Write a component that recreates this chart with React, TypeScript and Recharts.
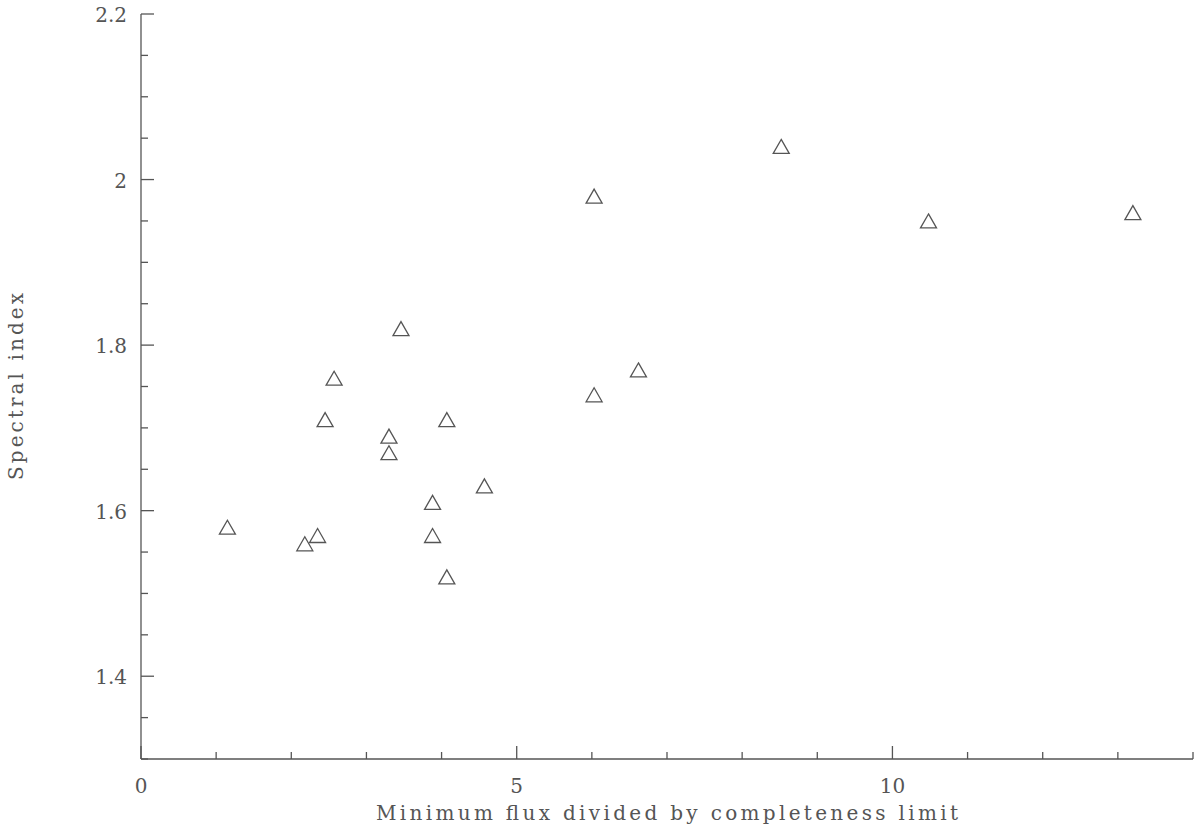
import { ScatterChart, Scatter, XAxis, YAxis, Label } from 'recharts';

// minimum flux / completeness limit
const fluxRatio = [1.15, 2.18, 2.35, 2.45, 2.57, 3.3, 3.3, 3.46, 3.88, 3.88, 4.07, 4.07, 4.57, 6.03, 6.03, 6.62, 8.52, 10.48, 13.2];
const spectralIndex = [1.58, 1.56, 1.57, 1.71, 1.76, 1.69, 1.67, 1.82, 1.61, 1.57, 1.71, 1.52, 1.63, 1.98, 1.74, 1.77, 2.04, 1.95, 1.96];

const xTicks = [0, 1, 2, 3, 4, 5, 6, 7, 8, 9, 10, 11, 12, 13, 14];
const yTicks = [1.3, 1.35, 1.4, 1.45, 1.5, 1.55, 1.6, 1.65, 1.7, 1.75, 1.8, 1.85, 1.9, 1.95, 2, 2.05, 2.1, 2.15, 2.2];
const xLabels = [0, 5, 10];
const yLabels = [1.4, 1.6, 1.8, 2, 2.2];

const data = fluxRatio.map((x, i) => ({ x, y: spectralIndex[i] }));

const INK = '#555';
const TEXT = '#555';
const FONT = '"DejaVu Serif", serif';

const isMajor = (list: number[], v: number) => list.some(l => Math.abs(l - v) < 1e-6);

const Triangle = (props: any) => {
  const { cx, cy } = props;
  return (
    <path
      d={`M${cx},${cy - 7} L${cx + 8},${cy + 7} L${cx - 8},${cy + 7} Z`}
      fill="none"
      stroke={INK}
      strokeWidth={1.3}
    />
  );
};

const BottomTick = ({ x, y, payload }: any) => {
  const major = isMajor(xLabels, payload.value);
  return (
    <g>
      <line x1={x} y1={y} x2={x} y2={y - (major ? 13 : 7)} stroke={INK} strokeWidth={1.3} />
      {major && (
        <text x={x} y={y + 34} textAnchor="middle" fontFamily={FONT} fontSize={20} fill={TEXT}>
          {payload.value}
        </text>
      )}
    </g>
  );
};

const TopTick = ({ x, y, payload }: any) => {
  const major = isMajor(xLabels, payload.value);
  return <line x1={x} y1={y} x2={x} y2={y + (major ? 13 : 7)} stroke={INK} strokeWidth={1.3} />;
};

const LeftTick = ({ x, y, payload }: any) => {
  const major = isMajor(yLabels, payload.value);
  return (
    <g>
      <line x1={x} y1={y} x2={x + (major ? 13 : 7)} y2={y} stroke={INK} strokeWidth={1.3} />
      {major && (
        <text x={x - 14} y={y + 8} textAnchor="end" fontFamily={FONT} fontSize={20} fill={TEXT}>
          {String(payload.value)}
        </text>
      )}
    </g>
  );
};

const RightTick = ({ x, y, payload }: any) => {
  const major = isMajor(yLabels, payload.value);
  return <line x1={x} y1={y} x2={x - (major ? 13 : 7)} y2={y} stroke={INK} strokeWidth={1.3} />;
};

const App = () => {
  return (
    <div style={{ position: 'absolute', left: 0, top: 0, background: '#fff' }}>
      <ScatterChart width={1200} height={830} margin={{ top: 14, right: 7, bottom: 0, left: 0 }}>
        <XAxis
          type="number"
          dataKey="x"
          domain={[0, 14]}
          ticks={xTicks}
          interval={0}
          height={71}
          tickSize={0}
          tickMargin={0}
          tick={<BottomTick />}
          axisLine={{ stroke: INK, strokeWidth: 1.3 }}
        >
          <Label
            content={(props: any) => {
              const vb = props.viewBox;
              return (
                <text
                  x={vb.x + vb.width / 2}
                  y={vb.y + 61}
                  textAnchor="middle"
                  fontFamily={FONT}
                  fontSize={20}
                  fill={TEXT}
                  textLength={582}
                  lengthAdjust="spacing"
                >
                  Minimum flux divided by completeness limit
                </text>
              );
            }}
          />
        </XAxis>
        <XAxis
          xAxisId="top"
          orientation="top"
          type="number"
          dataKey="x"
          domain={[0, 14]}
          ticks={xTicks}
          interval={0}
          height={0}
          tickSize={0}
          tickMargin={0}
          tick={<TopTick />}
          axisLine={{ stroke: INK, strokeWidth: 1.3 }}
        />
        <YAxis
          type="number"
          dataKey="y"
          domain={[1.3, 2.2]}
          ticks={yTicks}
          interval={0}
          width={141}
          tickSize={0}
          tickMargin={0}
          tick={<LeftTick />}
          axisLine={{ stroke: INK, strokeWidth: 1.3 }}
        >
          <Label
            content={(props: any) => {
              const vb = props.viewBox;
              const cy = vb.y + vb.height / 2;
              return (
                <text
                  x={23}
                  y={cy}
                  transform={`rotate(-90, 23, ${cy})`}
                  textAnchor="middle"
                  fontFamily={FONT}
                  fontSize={20}
                  fill={TEXT}
                  textLength={187}
                  lengthAdjust="spacing"
                >
                  Spectral index
                </text>
              );
            }}
          />
        </YAxis>
        <YAxis
          yAxisId="right"
          orientation="right"
          type="number"
          dataKey="y"
          domain={[1.3, 2.2]}
          ticks={yTicks}
          interval={0}
          width={0}
          tickSize={0}
          tickMargin={0}
          tick={<RightTick />}
          axisLine={{ stroke: INK, strokeWidth: 1.3 }}
        />
        <Scatter data={data} shape={<Triangle />} isAnimationActive={false} />
      </ScatterChart>
    </div>
  );
};

export default App;
